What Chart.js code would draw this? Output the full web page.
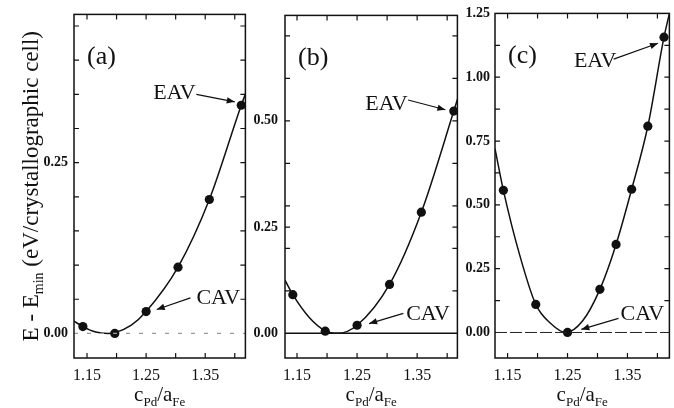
<!DOCTYPE html>
<html><head><meta charset="utf-8">
<script src="https://cdn.jsdelivr.net/npm/chart.js@4.4.1/dist/chart.umd.min.js"></script>
<style>
html,body{margin:0;padding:0;background:#fff;}
#wrap{position:relative;width:674px;height:408px;background:#fff;overflow:hidden;}
canvas{position:absolute;top:0;}
</style></head><body>
<div id="wrap">
<canvas id="ca" style="left:0px;width:250px;height:408px" width="250" height="408"></canvas>
<canvas id="cb" style="left:250px;width:212px;height:408px" width="212" height="408"></canvas>
<canvas id="cc" style="left:462px;width:212px;height:408px" width="212" height="408"></canvas>
</div>
<script>
// ---- data ----
const xPointsAB = [1.143, 1.197, 1.250, 1.304, 1.357, 1.411];
const xPointsC  = [1.143, 1.197, 1.250, 1.304, 1.331, 1.357, 1.384, 1.411];
const energyA = [0.010, 0.000, 0.032, 0.097, 0.196, 0.334];
const energyB = [0.091, 0.005, 0.019, 0.115, 0.285, 0.523];
const energyC = [0.557, 0.110, 0.000, 0.169, 0.345, 0.561, 0.808, 1.157];

// fitted curves
const fitXA = [1.128, 1.143, 1.165, 1.185, 1.197, 1.225, 1.250, 1.304, 1.357, 1.411, 1.420];
const fitYA = [0.018, 0.010, 0.002, 0.000, 0.001, 0.012, 0.032, 0.097, 0.196, 0.334, 0.355];
const fitXB = [1.130, 1.143, 1.170, 1.197, 1.218, 1.250, 1.304, 1.357, 1.411, 1.418];
const fitYB = [0.125, 0.091, 0.038, 0.006, 0.000, 0.019, 0.115, 0.285, 0.523, 0.555];
const fitXC = [1.129, 1.143, 1.170, 1.197, 1.222, 1.247, 1.275, 1.304, 1.331, 1.357, 1.384, 1.411, 1.420];
const fitYC = [0.720, 0.557, 0.305, 0.110, 0.035, 0.000, 0.045, 0.169, 0.345, 0.561, 0.808, 1.157, 1.250];

// axes
const xTickLabels = [1.15, 1.25, 1.35];
const xMinorTicks = [1.15, 1.20, 1.25, 1.30, 1.35, 1.40];
const yTickLabelsA = [0.00, 0.25];
const yTickLabelsB = [0.00, 0.25, 0.50];
const yTickLabelsC = [0.00, 0.25, 0.50, 0.75, 1.00, 1.25];
const yMinorA = [0.05, 0.10, 0.15, 0.20, 0.25, 0.30, 0.35, 0.40, 0.45];
const yMinorB = [0.1, 0.2, 0.25, 0.3, 0.4, 0.5, 0.6, 0.7];
const yMinorC = [0.125, 0.25, 0.375, 0.5, 0.625, 0.75, 0.875, 1.0, 1.125];
const xRangeA = [1.128, 1.418], yRangeA = [-0.036, 0.467];
const xRangeB = [1.130, 1.417], yRangeB = [-0.058, 0.748];
const xRangeC = [1.129, 1.420], yRangeC = [-0.100, 1.250];

// annotations: [label, textX, textY, arrowStartX, arrowStartY, tipX, tipY]
const notesA = [["EAV", 1.298, 0.352, 1.335, 0.350, 1.400, 0.339],
                ["CAV", 1.372, 0.052, 1.325, 0.052, 1.268, 0.035]];
const notesB = [["EAV", 1.299, 0.540, 1.335, 0.549, 1.397, 0.526],
                ["CAV", 1.368, 0.044, 1.327, 0.047, 1.270, 0.023]];
const notesC = [["EAV", 1.296, 1.063, 1.327, 1.071, 1.401, 1.133],
                ["CAV", 1.375, 0.071, 1.335, 0.055, 1.273, 0.012]];

const SERIF = '"Liberation Serif", "DejaVu Serif", serif';

function pts(xs, ys) { return xs.map((x, i) => ({x: x, y: ys[i]})); }

function arrow(ctx, x1, y1, x2, y2) {
  ctx.beginPath(); ctx.moveTo(x1, y1); ctx.lineTo(x2, y2); ctx.stroke();
  const ang = Math.atan2(y2 - y1, x2 - x1), L = 8, W = 3.2;
  ctx.beginPath();
  ctx.moveTo(x2, y2);
  ctx.lineTo(x2 - L * Math.cos(ang) + W * Math.sin(ang), y2 - L * Math.sin(ang) - W * Math.cos(ang));
  ctx.lineTo(x2 - L * Math.cos(ang) - W * Math.sin(ang), y2 - L * Math.sin(ang) + W * Math.cos(ang));
  ctx.closePath(); ctx.fill();
}

function drawRich(ctx, parts, x, y) {
  let w = 0;
  parts.forEach(p => { ctx.font = p[1] + 'px ' + SERIF; w += ctx.measureText(p[0]).width; });
  let cx = x - w / 2;
  ctx.textAlign = 'left'; ctx.textBaseline = 'alphabetic';
  parts.forEach(p => { ctx.font = p[1] + 'px ' + SERIF; ctx.fillText(p[0], cx, y + p[2]); cx += ctx.measureText(p[0]).width; });
}

const framePlugin = {
  id: 'frame',
  afterDatasetsDraw(chart, args, o) {
    const ctx = chart.ctx, a = chart.chartArea, xs = chart.scales.x, ys = chart.scales.y;
    ctx.save();
    ctx.strokeStyle = '#111'; ctx.fillStyle = '#111';
    ctx.lineWidth = 1.5;
    ctx.strokeRect(a.left, a.top, a.right - a.left, a.bottom - a.top);
    ctx.lineWidth = 1.2;
    ctx.beginPath();
    o.xMinor.forEach(v => {
      const p = xs.getPixelForValue(v);
      ctx.moveTo(p, a.bottom); ctx.lineTo(p, a.bottom - 5);
      ctx.moveTo(p, a.top); ctx.lineTo(p, a.top + 5);
    });
    o.yMinor.forEach(v => {
      const p = ys.getPixelForValue(v);
      ctx.moveTo(a.left, p); ctx.lineTo(a.left + 5, p);
      ctx.moveTo(a.right, p); ctx.lineTo(a.right - 5, p);
    });
    ctx.stroke();
    ctx.font = '26px ' + SERIF; ctx.textAlign = 'left'; ctx.textBaseline = 'alphabetic';
    ctx.fillText(o.letter, a.left + 13, a.top + 50);
    ctx.font = '22px ' + SERIF; ctx.textAlign = 'center'; ctx.textBaseline = 'middle';
    ctx.lineWidth = 1.2;
    o.notes.forEach(n => {
      ctx.fillText(n[0], xs.getPixelForValue(n[1]), ys.getPixelForValue(n[2]));
      arrow(ctx, xs.getPixelForValue(n[3]), ys.getPixelForValue(n[4]), xs.getPixelForValue(n[5]), ys.getPixelForValue(n[6]));
    });
    drawRich(ctx, [["c", 21, 0], ["Pd", 13, 5], ["/", 21, 0], ["a", 21, 0], ["Fe", 13, 5]], (a.left + a.right) / 2, 401);
    if (o.yTitle) {
      ctx.save();
      ctx.translate(30, (a.top + a.bottom) / 2);
      ctx.rotate(-Math.PI / 2);
      drawRich(ctx, [["E - E", 23, 0], ["min", 14, 5], [" (eV/crystallographic cell)", 23, 0]], 0, 8);
      ctx.restore();
    }
    ctx.restore();
  }
};

function makeChart(id, cfg) {
  const data = {
    datasets: [
      { data: [{x: cfg.xr[0], y: 0}, {x: cfg.xr[1], y: 0}], showLine: true, pointRadius: 0,
        borderColor: cfg.zeroColor, borderWidth: cfg.zeroWidth, borderDash: cfg.zeroDash },
      { data: pts(cfg.fitX, cfg.fitY), showLine: true, pointRadius: 0, borderColor: '#111',
        borderWidth: 1.5, cubicInterpolationMode: 'monotone' },
      { data: pts(cfg.px, cfg.py), showLine: false, pointRadius: 4.6, pointBackgroundColor: '#111',
        pointBorderColor: '#111', pointBorderWidth: 0 }
    ]
  };
  return new Chart(document.getElementById(id), {
    type: 'scatter',
    data: data,
    plugins: [framePlugin],
    options: {
      responsive: false, animation: false, events: [],
      layout: { padding: { left: cfg.padL, right: cfg.padR, top: 13, bottom: 0 } },
      plugins: { legend: { display: false }, tooltip: { enabled: false },
        frame: { xMinor: xMinorTicks, yMinor: cfg.yMinor, letter: cfg.letter, notes: cfg.notes, yTitle: cfg.yTitle } },
      scales: {
        x: { type: 'linear', min: cfg.xr[0], max: cfg.xr[1],
          grid: { display: false, drawTicks: false }, border: { display: false },
          afterBuildTicks: s => { s.ticks = xTickLabels.map(v => ({value: v})); },
          afterFit: s => { s.height = 50; },
          ticks: { padding: 8, color: '#111', font: { family: SERIF, size: 16 }, callback: v => v.toFixed(2), maxRotation: 0, autoSkip: false } },
        y: { type: 'linear', min: cfg.yr[0], max: cfg.yr[1],
          grid: { display: false, drawTicks: false }, border: { display: false },
          afterBuildTicks: s => { s.ticks = cfg.yTicks.map(v => ({value: v})); },
          afterFit: s => { s.width = cfg.yW; },
          ticks: { padding: cfg.yPad, color: '#111', font: { family: SERIF, size: 14, weight: 'bold' }, callback: v => v.toFixed(2), autoSkip: false } }
      }
    }
  });
}

makeChart('ca', { xr: xRangeA, yr: yRangeA, fitX: fitXA, fitY: fitYA, px: xPointsAB, py: energyA,
  yTicks: yTickLabelsA, yMinor: yMinorA, letter: '(a)', notes: notesA, yTitle: true,
  zeroColor: '#999', zeroWidth: 1.2, zeroDash: [4, 9], padL: 44, padR: 2, yW: 30, yPad: 6 });
makeChart('cb', { xr: xRangeB, yr: yRangeB, fitX: fitXB, fitY: fitYB, px: xPointsAB, py: energyB,
  yTicks: yTickLabelsB, yMinor: yMinorB, letter: '(b)', notes: notesB, yTitle: false,
  zeroColor: '#111', zeroWidth: 1.5, zeroDash: [], padL: 2, padR: 3, yW: 33, yPad: 7 });
makeChart('cc', { xr: xRangeC, yr: yRangeC, fitX: fitXC, fitY: fitYC, px: xPointsC, py: energyC,
  yTicks: yTickLabelsC, yMinor: yMinorC, letter: '(c)', notes: notesC, yTitle: false,
  zeroColor: '#222', zeroWidth: 1, zeroDash: [12, 3], padL: 2, padR: 1, yW: 31, yPad: 5 });
</script>
</body></html>
